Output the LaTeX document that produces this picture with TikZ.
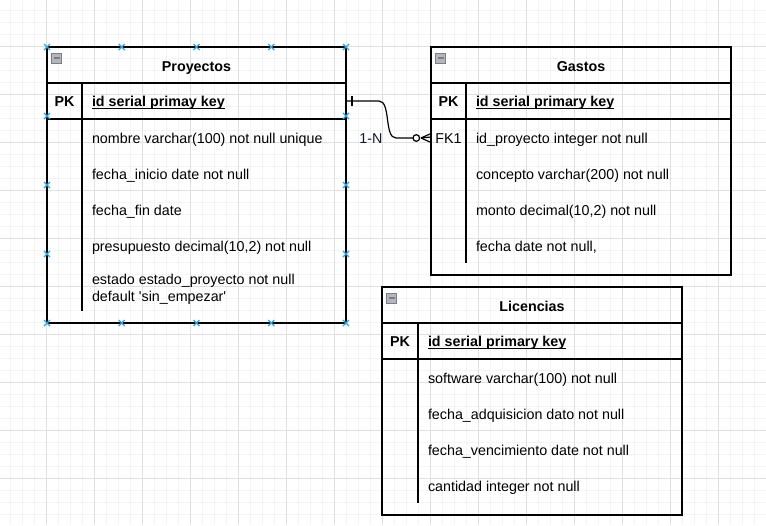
\documentclass[tikz,border=0pt]{standalone}
\usepackage{fontspec}
\setmainfont{Liberation Sans}[Ligatures=TeXOff]
\definecolor{gridminor}{HTML}{F4F4F4}
\definecolor{gridmajor}{HTML}{E0E0E0}
\definecolor{handle}{HTML}{2AA6E6}
\definecolor{iconfill}{HTML}{B4B6BE}
\definecolor{iconline}{HTML}{7C7E86}
\definecolor{labelcol}{HTML}{101830}
\newcommand\myul[1]{\leavevmode\setbox0\hbox{#1}\rlap{\rule[-2.3pt]{\wd0}{1.1pt}}\box0}
\begin{document}
\begin{tikzpicture}[x=1pt,y=-1pt,
  every node/.style={inner sep=0pt,outer sep=0pt},
  tbox/.style={draw=black,line width=1.2pt},
  tline/.style={draw=black,line width=1.2pt},
  rowarea/.style={minimum height=36pt},
  ttl/.style={anchor=base,font=\fontsize{14.3}{17}\selectfont\bfseries},
  pk/.style={anchor=base,font=\fontsize{14.3}{17}\selectfont\bfseries},
  key/.style={anchor=base west,font=\fontsize{14.3}{17}\selectfont\bfseries},
  fld/.style={anchor=base west,font=\fontsize{14.3}{17}\selectfont},
  fk/.style={anchor=base,font=\fontsize{14.3}{17}\selectfont},
  icon/.style={draw=iconline,fill=iconfill,line width=0.8pt,minimum width=10pt,minimum height=10pt},
  conn/.style={draw=black,line width=1.2pt},
  hmark/.style={draw=handle,line width=1.3pt}]
\useasboundingbox (0,0) rectangle (766,525);
\fill[white] (0,0) rectangle (766,525);
% grid
\foreach \i in {0,...,64}{
  \draw[gridminor,line width=0.8pt] (-1.5+12*\i,0) -- (-1.5+12*\i,525);
}
\foreach \i in {0,...,44}{
  \draw[gridminor,line width=0.8pt] (0,-1.5+12*\i) -- (766,-1.5+12*\i);
}
\foreach \i in {0,...,16}{
  \draw[gridmajor,line width=0.8pt] (-1.5+48*\i,0) -- (-1.5+48*\i,525);
}
\foreach \i in {0,...,11}{
  \draw[gridmajor,line width=0.8pt] (0,-1.5+48*\i) -- (766,-1.5+48*\i);
}

% ---------- Proyectos ----------
\node[tbox,minimum width=299pt,minimum height=276pt] (proy) at (196.5,185) {};
\draw[tline] (47,83) -- (346,83);
\draw[tline] (47,119) -- (346,119);
\draw[tline] (82,83) -- (82,311);
\node[icon] (pIcon) at (56.5,58) {};
\draw[iconline,line width=1.4pt] (53.5,58) -- (59.5,58);
\node[ttl] (pTitle) at (196.5,71) {Proyectos};
\node[rowarea,minimum width=299pt] (pPK) at (196.5,101) {};
\node[pk] (pPKl) at (64.5,106.5) {PK};
\node[key] (pKey) at (92,106.5) {\myul{id serial primay key}};
\node[fld] (p1) at (92,143) {nombre varchar(100) not null unique};
\node[fld] (p2) at (92,179) {fecha\_inicio date not null};
\node[fld] (p3) at (92,215) {fecha\_fin date};
\node[fld] (p4) at (92,251) {presupuesto decimal(10,2) not null};
\node[fld] (p5a) at (92,284.5) {estado estado\_proyecto not null};
\node[fld] (p5b) at (92,301.3) {default 'sin\_empezar'};

% ---------- Gastos ----------
\node[tbox,minimum width=300pt,minimum height=228pt] (gas) at (581,161) {};
\draw[tline] (431,83) -- (731,83);
\draw[tline] (431,119) -- (731,119);
\draw[tline] (466,83) -- (466,263);
\node[icon] (gIcon) at (440.5,58) {};
\draw[iconline,line width=1.4pt] (437.5,58) -- (443.5,58);
\node[ttl] (gTitle) at (581,71) {Gastos};
\node[pk] (gPKl) at (448.5,106.5) {PK};
\node[key] (gKey) at (476,106.5) {\myul{id serial primary key}};
\node[rowarea,minimum width=300pt] (gFK) at (581,137) {};
\node[fk] (gFKl) at (448.5,143) {FK1};
\node[fld] (g1) at (476,143) {id\_proyecto integer not null};
\node[fld] (g2) at (476,179) {concepto varchar(200) not null};
\node[fld] (g3) at (476,215) {monto decimal(10,2) not null};
\node[fld] (g4) at (476,251) {fecha date not null,};

% ---------- Licencias ----------
\node[tbox,minimum width=300pt,minimum height=228pt] (lic) at (532,401) {};
\draw[tline] (382,323) -- (682,323);
\draw[tline] (382,359) -- (682,359);
\draw[tline] (418,323) -- (418,503);
\node[icon] (lIcon) at (391.5,298) {};
\draw[iconline,line width=1.4pt] (388.5,298) -- (394.5,298);
\node[ttl] (lTitle) at (532,311) {Licencias};
\node[pk] (lPKl) at (400,346.5) {PK};
\node[key] (lKey) at (428,346.5) {\myul{id serial primary key}};
\node[fld] (l1) at (428,383) {software varchar(100) not null};
\node[fld] (l2) at (428,419) {fecha\_adquisicion dato not null};
\node[fld] (l3) at (428,455) {fecha\_vencimiento date not null};
\node[fld] (l4) at (428,491) {cantidad integer not null};

% ---------- connector ----------
\coordinate (ca) at (379,101);
\coordinate (cb) at (396,138);
\coordinate (cc) at (413,138);
\coordinate (cd) at (421,138);
\draw[conn] (pPK.east) -- (ca) .. controls (391,101) and (384,138) .. (cb) -- (cc);
\draw[conn] (352,96) -- (352,106);
\draw[conn] (416.3,138) circle (3.3);
\draw[conn] (cd) -- (gFK.west);
\draw[conn] (cd) -- (431,133.5);
\draw[conn] (cd) -- (431,142.5);
\node[anchor=base,font=\fontsize{14.3}{17}\selectfont,text=labelcol] (rel) at (371,143) {1-N};

% ---------- selection handles ----------
\foreach \x in {47,121.75,196.5,271.25,346}{
  \foreach \y in {47,323}{
    \draw[hmark] (\x-3,\y-3) -- (\x+3,\y+3) (\x-3,\y+3) -- (\x+3,\y-3);
  }
}
\foreach \y in {116,185,254}{
  \foreach \x in {47,346}{
    \draw[hmark] (\x-3,\y-3) -- (\x+3,\y+3) (\x-3,\y+3) -- (\x+3,\y-3);
  }
}
\end{tikzpicture}
\end{document}
